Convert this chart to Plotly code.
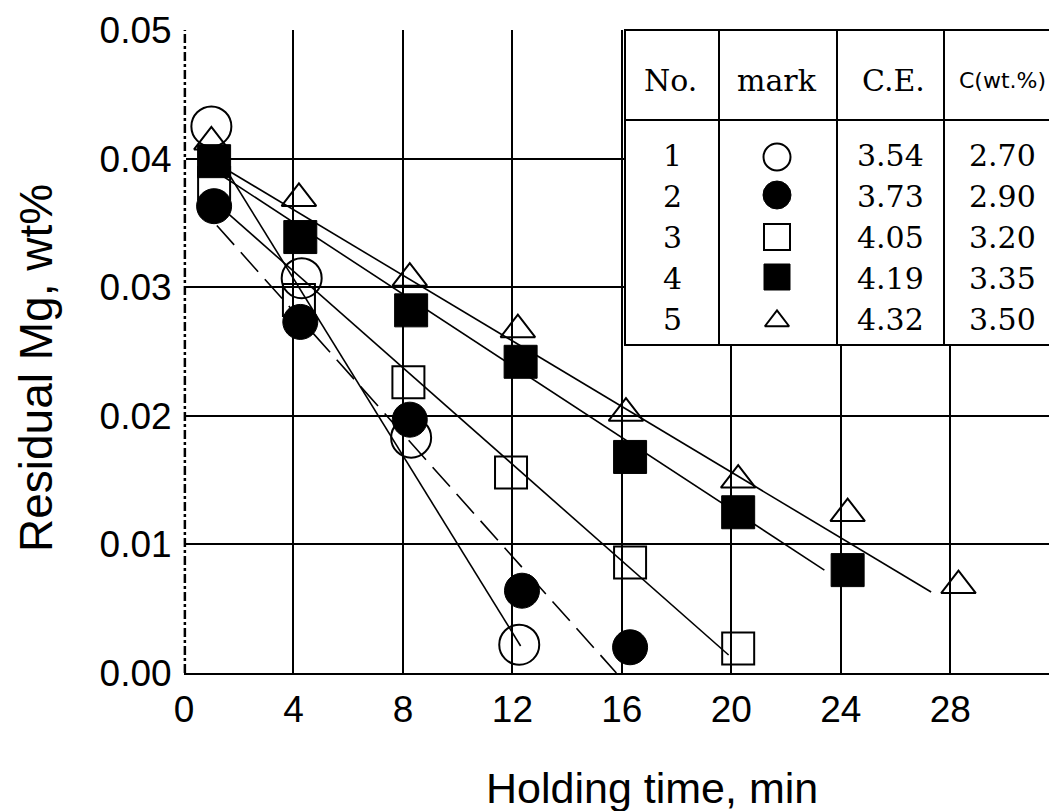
import plotly.graph_objects as go

# ---------------- data ----------------
s1_x = [1.0, 4.3, 8.3, 12.25]
s1_y = [0.0425, 0.0307, 0.0183, 0.0022]
s2_x = [1.1, 4.25, 8.25, 12.35, 16.3]
s2_y = [0.0363, 0.0273, 0.0197, 0.0064, 0.0020]
s3_x = [1.1, 4.2, 8.2, 11.95, 16.3, 20.25]
s3_y = [0.0381, 0.0290, 0.0226, 0.0156, 0.0086, 0.0019]
s4_x = [1.1, 4.25, 8.3, 12.3, 16.3, 20.25, 24.25]
s4_y = [0.0398, 0.0339, 0.0282, 0.0242, 0.0168, 0.0125, 0.0080]
s5_x = [1.0, 4.2, 8.25, 12.2, 16.15, 20.25, 24.25, 28.3]
s5_y = [0.0413, 0.0369, 0.0307, 0.0267, 0.0202, 0.0150, 0.0124, 0.0068]

# fitted straight lines (end points)
fit1_x = [1.0, 12.3]
fit1_y = [0.0410, 0.0021]
fit2_x = [1.2, 15.8]
fit2_y = [0.0348, 0.0]
fit3_x = [1.2, 19.9]
fit3_y = [0.0365, 0.0014]
fit4_x = [1.3, 23.4]
fit4_y = [0.0388, 0.0080]
fit5_x = [1.2, 27.3]
fit5_y = [0.0396, 0.0063]

x_ticks = [0, 4, 8, 12, 16, 20, 24, 28]
y_ticks = [0.00, 0.01, 0.02, 0.03, 0.04, 0.05]
y_tick_labels = ["0.00", "0.01", "0.02", "0.03", "0.04", "0.05"]

tbl_headers = ["No.", "mark", "C.E.", "C(wt.%)"]
tbl_no = ["1", "2", "3", "4", "5"]
tbl_ce = ["3.54", "3.73", "4.05", "4.19", "4.32"]
tbl_c = ["2.70", "2.90", "3.20", "3.35", "3.50"]

x_title = "Holding time, min"
y_title = "Residual Mg, wt%"

# ---------------- layout constants ----------------
OFF = 8                      # page body margin of the browser
PAGE_W, PAGE_H = 1057, 811
W, H = PAGE_W - OFF, PAGE_H - OFF
PL, PT, PB = 184, 30, 673    # plot area edges in page pixels
L, T = PL - OFF, PT - OFF
B = H - (PB - OFF)
PW, PH = PAGE_W - PL, PB - PT
X_MAX = 31.9
Y_MAX = 0.05


def px(X):
    return (X - PL) / PW


def py(Y):
    return (PB - Y) / PH


SANS = "Liberation Sans, Arial, sans-serif"
SERIF = "DejaVu Serif, serif"

fig = go.Figure()

line_style = dict(color="black", width=1.6)
fig.add_trace(go.Scatter(x=fit1_x, y=fit1_y, mode="lines", line=line_style, showlegend=False))
fig.add_trace(go.Scatter(x=fit2_x, y=fit2_y, mode="lines",
                         line=dict(color="black", width=1.6, dash="26px,10px"), showlegend=False))
fig.add_trace(go.Scatter(x=fit3_x, y=fit3_y, mode="lines", line=line_style, showlegend=False))
fig.add_trace(go.Scatter(x=fit4_x, y=fit4_y, mode="lines", line=line_style, showlegend=False))
fig.add_trace(go.Scatter(x=fit5_x, y=fit5_y, mode="lines", line=line_style, showlegend=False))

open_line = dict(color="black", width=2)
fig.add_trace(go.Scatter(x=s5_x, y=s5_y, mode="markers", showlegend=False,
                         marker=dict(symbol="triangle-up-open", size=30, line=open_line, color="black")))
fig.add_trace(go.Scatter(x=s1_x, y=s1_y, mode="markers", showlegend=False,
                         marker=dict(symbol="circle-open", size=40, line=open_line, color="black")))
fig.add_trace(go.Scatter(x=s3_x, y=s3_y, mode="markers", showlegend=False,
                         marker=dict(symbol="square-open", size=32, line=open_line, color="black")))
fig.add_trace(go.Scatter(x=s2_x, y=s2_y, mode="markers", showlegend=False,
                         marker=dict(symbol="circle", size=35, color="black",
                                     line=dict(color="black", width=1))))
fig.add_trace(go.Scatter(x=s4_x, y=s4_y, mode="markers", showlegend=False,
                         marker=dict(symbol="square", size=33, color="black",
                                     line=dict(color="black", width=1))))

# ---------------- table ----------------
t_left, t_right = px(625), 1.05
t_top, t_head, t_bot = py(30), py(120), py(345)
col_lines = [px(719), px(837), px(944)]
head_y = py(80)
row_y = [py(155), py(196), py(237), py(278), py(320)]
mark_y = [py(157), py(195), py(237), py(277), py(321)]
col_head_x = [px(670), px(777), px(893), px(1002)]
col_val_x = [px(672), px(777), px(890), px(1002)]

shapes = []
# white background hides the grid under the table (drawn between grid and traces)
shapes.append(dict(type="rect", xref="x", yref="y",
                   x0=t_left * X_MAX, x1=t_right * X_MAX,
                   y0=t_bot * Y_MAX, y1=t_top * Y_MAX,
                   fillcolor="white", line=dict(width=0), layer="between"))
tl = dict(color="black", width=2)
shapes.append(dict(type="rect", xref="paper", yref="paper", x0=t_left, x1=t_right,
                   y0=t_bot, y1=t_top, line=tl, layer="above"))
shapes.append(dict(type="line", xref="paper", yref="paper", x0=t_left, x1=t_right,
                   y0=t_head, y1=t_head, line=tl, layer="above"))
for cx in col_lines:
    shapes.append(dict(type="line", xref="paper", yref="paper", x0=cx, x1=cx,
                       y0=t_bot, y1=t_top, line=tl, layer="above"))
# dash-dot left frame line
shapes.append(dict(type="line", xref="paper", yref="paper", x0=0.001, x1=0.001, y0=0, y1=1,
                   line=dict(color="black", width=2.5, dash="dashdot"), layer="above"))

annotations = []
for i, h in enumerate(tbl_headers):
    if i < 3:
        fnt = dict(family=SERIF, size=30, color="black")
    else:
        fnt = dict(family="DejaVu Sans, sans-serif", size=22, color="black")
    annotations.append(dict(xref="paper", yref="paper", x=col_head_x[i], y=head_y, text=h,
                            showarrow=False, xanchor="center", yanchor="middle", font=fnt))
for j in range(5):
    for ci, col in ((0, tbl_no), (2, tbl_ce), (3, tbl_c)):
        annotations.append(dict(xref="paper", yref="paper", x=col_val_x[ci], y=row_y[j], text=col[j],
                                showarrow=False, xanchor="center", yanchor="middle",
                                font=dict(family=SERIF, size=30, color="black")))

# table marks on an overlay axis that matches the plot area
mark_syms = ["circle-open", "circle", "square-open", "square", "triangle-up-open"]
mark_sizes = [27, 28, 26, 26, 21]
for j in range(5):
    fig.add_trace(go.Scatter(x=[col_val_x[1]], y=[mark_y[j]], xaxis="x2", yaxis="y2",
                             mode="markers", showlegend=False,
                             marker=dict(symbol=mark_syms[j], size=mark_sizes[j], color="black",
                                         line=dict(color="black", width=2 if "open" in mark_syms[j] else 1))))

# axis titles
annotations.append(dict(xref="paper", yref="paper", x=px(652), y=py(788), text=x_title,
                        showarrow=False, xanchor="center", yanchor="middle",
                        font=dict(family=SANS, size=43, color="black")))
annotations.append(dict(xref="paper", yref="paper", x=px(36), y=py(368), text=y_title,
                        showarrow=False, xanchor="center", yanchor="middle", textangle=-90,
                        font=dict(family=SANS, size=46, color="black")))

fig.update_layout(
    width=W, height=H,
    margin=dict(l=L, r=0, t=T, b=B, pad=0),
    paper_bgcolor="white", plot_bgcolor="white",
    showlegend=False,
    shapes=shapes, annotations=annotations,
    xaxis=dict(range=[0, X_MAX], tickvals=x_ticks, ticktext=[str(v) for v in x_ticks],
               showgrid=True, gridcolor="black", gridwidth=2,
               zeroline=True, zerolinecolor="white", zerolinewidth=4,
               showline=True, linecolor="black", linewidth=2,
               ticks="outside", ticklen=3, tickcolor="rgba(0,0,0,0)",
               tickfont=dict(family=SANS, size=37, color="black")),
    yaxis=dict(range=[0, Y_MAX], tickvals=y_ticks, ticktext=y_tick_labels,
               showgrid=True, gridcolor="black", gridwidth=2,
               zeroline=True, zerolinecolor="black", zerolinewidth=2,
               showline=False,
               ticks="outside", ticklen=4, tickcolor="rgba(0,0,0,0)",
               tickfont=dict(family=SANS, size=37, color="black")),
    xaxis2=dict(range=[0, 1], overlaying="x", visible=False, anchor="y2"),
    yaxis2=dict(range=[0, 1], overlaying="y", visible=False, anchor="x2"),
)

fig.write_html("out.html")
